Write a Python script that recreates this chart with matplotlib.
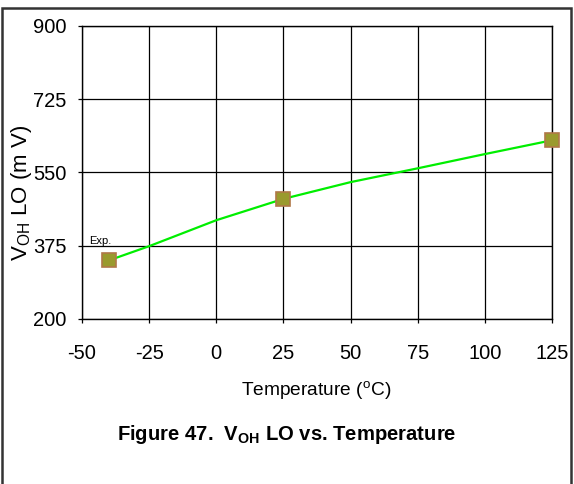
import matplotlib
matplotlib.use("Agg")
import matplotlib.pyplot as plt
from matplotlib.patches import Rectangle

# measured points (markers)
temps_meas = [-40, 25, 125]
voh_meas = [340, 487, 627]

# fitted green curve
temps_fit = [-40, -25, 0, 25, 50, 75, 100, 125]
voh_fit = [340, 374, 436, 487, 527, 560, 594, 627]

x_ticks = [-50, -25, 0, 25, 50, 75, 100, 125]
y_ticks = [200, 375, 550, 725, 900]

plt.rcParams["font.family"] = ["Liberation Sans", "DejaVu Sans"]
plt.rcParams["mathtext.fontset"] = "custom"
plt.rcParams["mathtext.rm"] = "Liberation Sans"
plt.rcParams["mathtext.bf"] = "Liberation Sans:bold"
plt.rcParams["axes.unicode_minus"] = False

W, H = 574, 484
fig = plt.figure(figsize=(W / 100, H / 100), dpi=100)
ax = fig.add_axes([82 / W, 1 - 319 / H, 470 / W, 293 / H])

ax.plot(temps_fit, voh_fit, color="#00ee00", lw=1.6, zorder=3)
ax.plot(temps_meas, voh_meas, ls="none", marker="s", ms=9.5,
        markerfacecolor="#9a9a2e", markeredgecolor="#b07848", mew=1.2,
        zorder=4, clip_on=False)
ax.text(-47.5, 374, "Exp.", fontsize=8, ha="left", va="bottom")

ax.set_xlim(-50, 125)
ax.set_ylim(200, 900)
ax.set_xticks(x_ticks)
ax.set_yticks(y_ticks)
ax.grid(True, color="black", lw=0.9)
ax.set_axisbelow(True)
for s in ax.spines.values():
    s.set_color("black")
    s.set_linewidth(1.0)
ax.tick_params(direction="out", length=3, width=0.9, labelsize=14.5)
ax.tick_params(axis="x", pad=15)
ax.tick_params(axis="y", pad=8)

fig.text(22 / W, 1 - 193 / H, r"V$_{\mathrm{OH}}$ LO (m V)", rotation=90,
         ha="center", va="center", fontsize=16)
fig.text(316 / W, 1 - 391 / H, r"Temperature ($^{\mathrm{o}}$C)",
         ha="center", va="center", fontsize=13.8)
fig.text(287 / W, 1 - 434 / H,
         r"Figure 47.  V$_{\mathbf{OH}}$ LO vs. Temperature",
         ha="center", va="center", fontsize=14.6, fontweight="bold")

fig.patches.append(Rectangle((1.5 / W, -0.1), 569.5 / W, 1.1 - 8 / H,
                             transform=fig.transFigure, fill=False,
                             edgecolor="#333333", lw=1.8))

fig.savefig("out.png", dpi=100)
